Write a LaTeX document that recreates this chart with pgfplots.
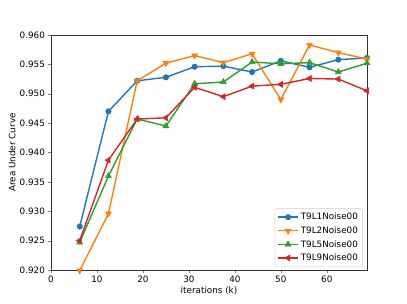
\documentclass[border=0pt]{standalone}
\usepackage{fontspec}
\setmainfont{DejaVu Sans}
\usepackage{pgfplots}
\pgfplotsset{compat=1.18}
\definecolor{c0}{HTML}{1F77B4}
\definecolor{c1}{HTML}{FF7F0E}
\definecolor{c2}{HTML}{2CA02C}
\definecolor{c3}{HTML}{D62728}
\begin{document}
\fontsize{8.8}{10.5}\selectfont
\begin{tikzpicture}
\begin{axis}[
  scale only axis, width=316pt, height=235pt,
  xmin=0, xmax=68.75, ymin=0.920, ymax=0.960,
  xtick={0,10,20,30,40,50,60},
  ytick={0.920,0.925,0.930,0.935,0.940,0.945,0.950,0.955,0.960},
  yticklabel style={/pgf/number format/.cd, fixed, fixed zerofill, precision=3},
  /pgf/number format/assume math mode=true,
  ticklabel style={font=\fontsize{8.8}{10.5}\selectfont},
  label style={font=\fontsize{8.8}{10.5}\selectfont},
  tick align=outside, tick pos=left,
  major tick length=3pt,
  axis line style={black!80, line width=0.7pt},
  xlabel={iterations (k)}, ylabel={Area Under Curve},
  xlabel style={yshift=2pt},
  ylabel style={yshift=-2pt},
  legend style={at={(0.986,0.014)}, anchor=south east, draw=black!20, rounded corners=2pt,
    font=\fontsize{8.8}{10.5}\selectfont, row sep=1.6pt, inner sep=2.5pt},
  legend image code/.code={\draw[mark repeat=2, mark phase=2] plot coordinates {(0pt,0pt) (10pt,0pt) (20pt,0pt)};},
  legend cell align=left,
  clip=false,
]
\addplot[c0, line width=1.4pt, mark=*, mark size=2.7pt, mark options={solid, line width=0.6pt}] coordinates {
(6.25,0.9274) (12.5,0.9470) (18.75,0.9522) (25,0.9528) (31.25,0.9546) (37.5,0.9547)
(43.75,0.9537) (50,0.9556) (56.25,0.9545) (62.5,0.9558) (68.75,0.9561)};
\addlegendentry{T9L1Noise00}
\addplot[c1, line width=1.4pt, mark=triangle*, mark size=3.4pt, mark options={rotate=180, line width=0.6pt}] coordinates {
(6.25,0.9199) (12.5,0.9296) (18.75,0.9522) (25,0.9552) (31.25,0.9565) (37.5,0.9553)
(43.75,0.9568) (50,0.9490) (56.25,0.9583) (62.5,0.9570) (68.75,0.9559)};
\addlegendentry{T9L2Noise00}
\addplot[c2, line width=1.4pt, mark=triangle*, mark size=3.4pt, mark options={line width=0.6pt}] coordinates {
(6.25,0.9247) (12.5,0.9360) (18.75,0.9457) (25,0.9445) (31.25,0.9517) (37.5,0.9520)
(43.75,0.9554) (50,0.9551) (56.25,0.9553) (62.5,0.9537) (68.75,0.9552)};
\addlegendentry{T9L5Noise00}
\addplot[c3, line width=1.4pt, mark=triangle*, mark size=3.4pt, mark options={rotate=90, line width=0.6pt}] coordinates {
(6.25,0.9250) (12.5,0.9387) (18.75,0.9457) (25,0.9459) (31.25,0.9511) (37.5,0.9495)
(43.75,0.9513) (50,0.9516) (56.25,0.9526) (62.5,0.9525) (68.75,0.9505)};
\addlegendentry{T9L9Noise00}
\end{axis}
\useasboundingbox ([shift={(-51pt,-34pt)}]current axis.south west) rectangle ([shift={(40pt,35pt)}]current axis.north east);
\end{tikzpicture}
\end{document}
